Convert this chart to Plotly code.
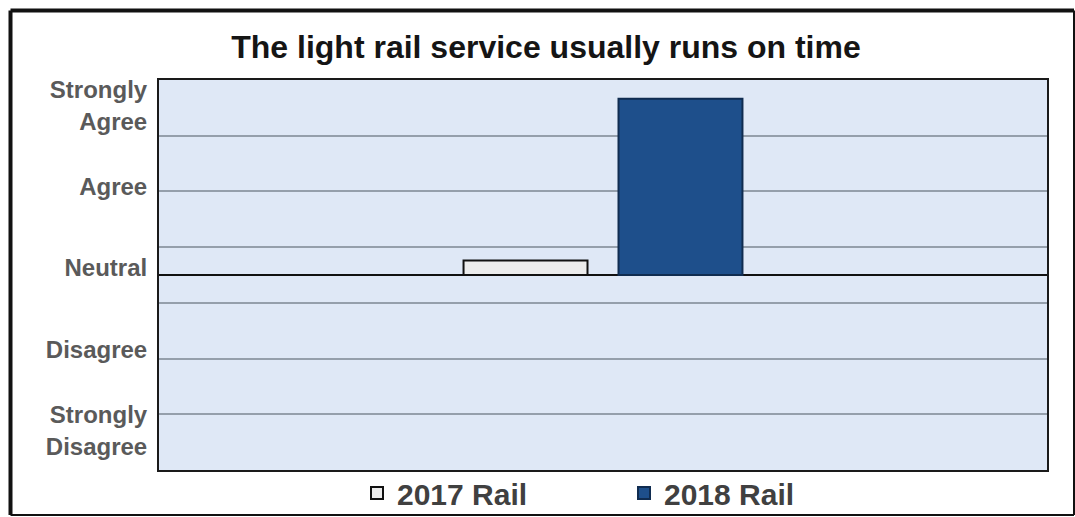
import plotly.graph_objects as go

# ---- data ----
categories = ["The light rail service usually runs on time"]
series_names = ["2017 Rail", "2018 Rail"]
rail_2017 = [0.18]
rail_2018 = [2.17]
likert_values = [2, 1, 0, -1, -2]
likert_labels = ["Strongly<br>Agree", "Agree", "Neutral", "Disagree", "Strongly<br>Disagree"]

W, H = 1075, 517
L, R, T, B = 159, 1047, 80, 470
pw, ph = R - L, B - T

def px_x(px):
    return (px - L) / pw

def px_y(py):
    return (B - py) / ph

y_min, y_max = -2.4, 2.4
step = (y_max - y_min) / 7
grid_vals = [y_min + step * k for k in range(1, 7)]
label_offset = 0.085

fig = go.Figure()
fig.add_trace(go.Bar(
    x=categories, y=rail_2017, name=series_names[0],
    marker=dict(color="#ececec", line=dict(color="#111111", width=2)),
))
fig.add_trace(go.Bar(
    x=categories, y=rail_2018, name=series_names[1],
    marker=dict(color="#1e4f8b", line=dict(color="#102c50", width=2)),
))

font_family = "Liberation Sans, Arial, sans-serif"

fig.update_layout(
    width=W, height=H,
    margin=dict(l=L, r=W - R, t=T, b=H - B, pad=0, autoexpand=False),
    paper_bgcolor="white",
    plot_bgcolor="#dfe8f6",
    barmode="group",
    bargap=0.651,
    bargroupgap=0.2,
    title=dict(
        text="<b>The light rail service usually runs on time</b>",
        x=546 / W, xanchor="center",
        y=1 - 47 / H, yanchor="middle",
        font=dict(family=font_family, size=32, color="#151515"),
    ),
    showlegend=True,
    legend=dict(
        orientation="h",
        x=px_x(357), xanchor="left",
        y=px_y(493), yanchor="middle",
        font=dict(family=font_family, size=30, color="#404040", weight="bold"),
        entrywidth=222,
        bgcolor="rgba(0,0,0,0)",
        traceorder="normal",
    ),
    xaxis=dict(
        showticklabels=False, showgrid=False, zeroline=False,
        showline=True, mirror=True, linecolor="#1a1a1a", linewidth=2,
        ticks="",
    ),
    yaxis=dict(
        range=[y_min, y_max],
        tickmode="array",
        tickvals=[v + label_offset for v in likert_values],
        ticktext=["<b>%s</b>" % t for t in likert_labels],
        tickfont=dict(family=font_family, size=24, color="#5a5a5a"),
        ticks="", ticklabelstandoff=5,
        showgrid=False,
        minor=dict(tickmode="array", tickvals=grid_vals, showgrid=True,
                   gridcolor="#959fab", gridwidth=1.5, ticks=""),
        zeroline=True, zerolinecolor="#111111", zerolinewidth=2,
        showline=True, mirror=True, linecolor="#1a1a1a", linewidth=2,
    ),
)

# outer chart frame
frame = [
    (10.5, 10.5, 10.5, 515, 4),    # left
    (10.5, 10.5, 1074, 10.5, 4),   # top
    (1074, 10.5, 1074, 515, 2),    # right
    (10.5, 515, 1074, 515, 2),     # bottom
]
for x0, y0, x1, y1, w in frame:
    fig.add_shape(type="line", xref="paper", yref="paper",
                  x0=px_x(x0), y0=px_y(y0), x1=px_x(x1), y1=px_y(y1),
                  line=dict(color="#111111", width=w), layer="above")

fig.write_html(
    "out.html",
    config={"displayModeBar": False},
    post_script="document.body.style.margin='0';document.body.style.overflow='hidden';",
)
